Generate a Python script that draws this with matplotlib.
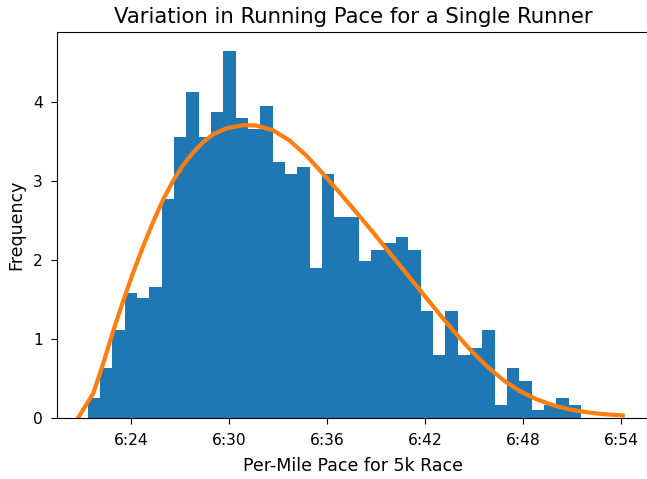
import numpy as np
import matplotlib
matplotlib.use('Agg')
import matplotlib.pyplot as plt
from matplotlib.ticker import FuncFormatter, MultipleLocator

# histogram: 40 equal bins between these paces (seconds per mile), density heights
bin_start = 381.35
bin_end = 411.54
n_bins = 40
heights = [0.25, 0.63, 1.11, 1.58, 1.51, 1.66, 2.77, 3.55, 4.12, 3.55,
           3.87, 4.65, 3.80, 3.66, 3.95, 3.24, 3.09, 3.18, 1.89, 3.09,
           2.54, 2.54, 1.99, 2.13, 2.21, 2.29, 2.13, 1.35, 0.80, 1.35,
           0.80, 0.88, 1.11, 0.16, 0.63, 0.47, 0.10, 0.16, 0.25, 0.16]

# fitted density curve (seconds, density)
curve_sec = [380.78, 381.70, 382.31, 382.92, 383.53, 384.14, 384.75, 385.36,
             385.97, 386.58, 387.20, 387.81, 388.42, 389.03, 389.85, 390.86,
             391.68, 392.69, 393.71, 394.73, 395.75, 396.77, 397.79, 398.80,
             399.82, 400.84, 401.86, 402.88, 403.69, 404.71, 405.73, 406.75,
             407.77, 408.79, 409.80, 410.82, 411.84, 412.86, 414.08]
curve_density = [0.0, 0.31, 0.69, 1.10, 1.48, 1.84, 2.17, 2.48,
                 2.76, 3.00, 3.20, 3.36, 3.49, 3.59, 3.665, 3.705,
                 3.70, 3.64, 3.51, 3.32, 3.09, 2.85, 2.60, 2.35,
                 2.09, 1.83, 1.57, 1.31, 1.11, 0.87, 0.66, 0.48,
                 0.34, 0.235, 0.16, 0.105, 0.07, 0.045, 0.028]

x_tick_minutes = [6.4, 6.5, 6.6, 6.7, 6.8, 6.9]

# pace in minutes
edges = np.linspace(bin_start, bin_end, n_bins + 1) / 60
curve_x = np.array(curve_sec) / 60


def to_mmss(v, pos=None):
    m = int(v)
    s = int(round((v - m) * 60))
    return f'{m}:{s:02d}'


fig = plt.figure(figsize=(6.47, 4.79), dpi=100)
ax = fig.add_axes([0.0881, 0.128, 0.9165, 0.806])

ax.hist(edges[:-1], bins=edges, weights=heights, color='#1f77b4')
ax.plot(curve_x, curve_density, color='#ff7f0e', linewidth=3)

ax.set_xlim(379.48 / 60, 415.75 / 60)
ax.set_ylim(0, 4.89)
ax.set_xticks(x_tick_minutes)
ax.xaxis.set_major_formatter(FuncFormatter(to_mmss))
ax.yaxis.set_major_locator(MultipleLocator(1))
ax.tick_params(labelsize=11.2, length=4.5)
ax.tick_params(axis='x', pad=6.5)
ax.tick_params(axis='y', pad=5.5)

ax.set_title('Variation in Running Pace for a Single Runner', fontsize=15.3)
ax.set_xlabel('Per-Mile Pace for 5k Race', fontsize=12.5, labelpad=6.5)
ax.set_ylabel('Frequency', fontsize=12.5, labelpad=6)

fig.savefig('out.png', dpi=100)
